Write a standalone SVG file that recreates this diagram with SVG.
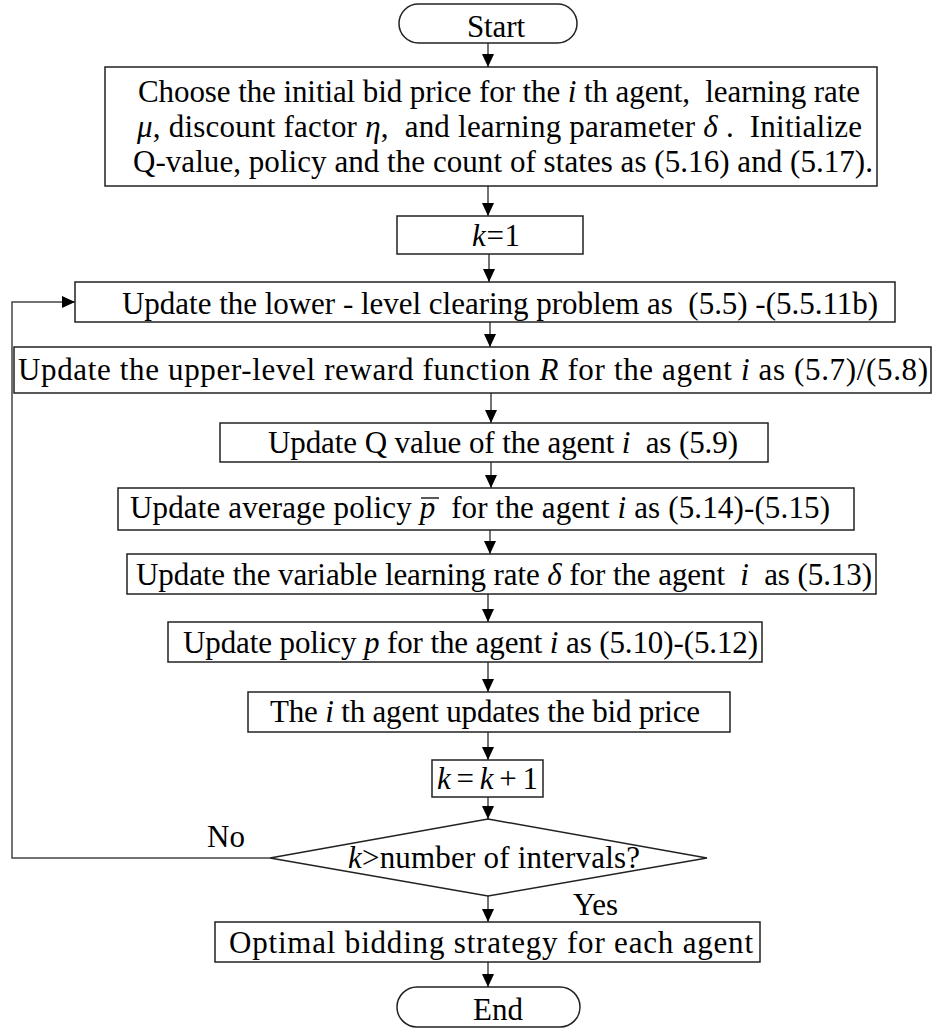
<svg xmlns="http://www.w3.org/2000/svg" width="941" height="1030" viewBox="0 0 941 1030">
<defs>
<marker id="arr" markerUnits="userSpaceOnUse" markerWidth="13" markerHeight="13" refX="13" refY="6" orient="auto">
<path d="M0,0 L13,6 L0,12 z" fill="#000"/>
</marker>
<style>
.box{fill:#fff;stroke:#222;stroke-width:1.5}
.t{font-family:"Liberation Serif","Times New Roman",serif;font-size:31px;fill:#000;white-space:pre}
.i{font-style:italic}
.ln{fill:none;stroke:#444;stroke-width:1.5}
</style>
</defs>
<rect width="941" height="1030" fill="#fff"/>
<g id="connectors">
<line class="ln" x1="488" y1="43" x2="488" y2="67" marker-end="url(#arr)"/>
<line class="ln" x1="488" y1="186" x2="488" y2="216" marker-end="url(#arr)"/>
<line class="ln" x1="489" y1="254" x2="489" y2="282" marker-end="url(#arr)"/>
<line class="ln" x1="490" y1="322" x2="490" y2="347" marker-end="url(#arr)"/>
<line class="ln" x1="491" y1="393" x2="491" y2="423" marker-end="url(#arr)"/>
<line class="ln" x1="491" y1="462" x2="491" y2="488" marker-end="url(#arr)"/>
<line class="ln" x1="490" y1="530" x2="490" y2="554" marker-end="url(#arr)"/>
<line class="ln" x1="488" y1="594" x2="488" y2="622" marker-end="url(#arr)"/>
<line class="ln" x1="488" y1="662" x2="488" y2="692" marker-end="url(#arr)"/>
<line class="ln" x1="488" y1="732" x2="488" y2="760" marker-end="url(#arr)"/>
<line class="ln" x1="488" y1="797" x2="488" y2="819" marker-end="url(#arr)"/>
<line class="ln" x1="488" y1="896" x2="488" y2="922" marker-end="url(#arr)"/>
<line class="ln" x1="488" y1="962" x2="488" y2="987" marker-end="url(#arr)"/>
<polyline class="ln" points="270,858 12,858 12,302 75,302" marker-end="url(#arr)"/>
<text class="t" x="207" y="847" textLength="38">No</text>
<text class="t" x="573" y="915" textLength="45">Yes</text>
</g>
<g id="start">
<rect class="box" x="399" y="4" width="178" height="39" rx="19.5"/>
<text class="t" x="467" y="37" textLength="58">Start</text>
</g>
<g id="init">
<rect class="box" x="105" y="67" width="772" height="119"/>
<text class="t" x="138" y="102" textLength="722">Choose the initial bid price for the <tspan class="i">i</tspan> th agent,  learning rate</text>
<text class="t" x="137" y="137" textLength="725"><tspan class="i">μ</tspan>, discount factor <tspan class="i">η</tspan>,  and learning parameter <tspan class="i">δ</tspan> .  Initialize</text>
<text class="t" x="133" y="172" textLength="740">Q-value, policy and the count of states as (5.16) and (5.17).</text>
</g>
<g id="k1">
<rect class="box" x="397" y="216" width="186" height="38"/>
<text class="t" x="472" y="246" textLength="48"><tspan class="i">k</tspan>=1</text>
</g>
<g id="lower">
<rect class="box" x="75" y="282" width="820" height="40"/>
<text class="t" x="122" y="314" textLength="756">Update the lower - level clearing problem as  (5.5) -(5.5.11b)</text>
</g>
<g id="upper">
<rect class="box" x="14" y="347" width="917" height="46"/>
<text class="t" x="18" y="380" textLength="910">Update the upper-level reward function <tspan class="i">R</tspan> for the agent <tspan class="i">i</tspan> as (5.7)/(5.8)</text>
</g>
<g id="qvalue">
<rect class="box" x="220" y="423" width="548" height="39"/>
<text class="t" x="268" y="453" textLength="470">Update Q value of the agent <tspan class="i">i</tspan>  as (5.9)</text>
</g>
<g id="avgpolicy">
<rect class="box" x="118" y="488" width="736" height="42"/>
<text class="t" x="130" y="518" textLength="700">Update average policy <tspan class="i">p</tspan>  for the agent <tspan class="i">i</tspan> as (5.14)-(5.15)</text>
<line x1="421" y1="498" x2="439" y2="498" stroke="#000" stroke-width="1.3"/>
</g>
<g id="varrate">
<rect class="box" x="127" y="554" width="749" height="40"/>
<text class="t" x="136" y="585" textLength="736">Update the variable learning rate <tspan class="i">δ</tspan> for the agent  <tspan class="i">i</tspan>  as (5.13)</text>
</g>
<g id="policy">
<rect class="box" x="168" y="622" width="594" height="40"/>
<text class="t" x="183" y="653" textLength="575">Update policy <tspan class="i">p</tspan> for the agent <tspan class="i">i</tspan> as (5.10)-(5.12)</text>
</g>
<g id="bid">
<rect class="box" x="248" y="692" width="482" height="40"/>
<text class="t" x="270" y="722" textLength="430">The <tspan class="i">i</tspan> th agent updates the bid price</text>
</g>
<g id="kinc">
<rect class="box" x="432" y="760" width="111" height="37"/>
<text class="t" x="437" y="789" textLength="101"><tspan class="i">k</tspan>=<tspan class="i">k</tspan>+1</text>
</g>
<g id="decision">
<polygon class="box" points="488,819 707,858 488,896 270,858"/>
<text class="t" x="348" y="868" textLength="292"><tspan class="i">k</tspan>&gt;number of intervals?</text>
</g>
<g id="optimal">
<rect class="box" x="215" y="922" width="545" height="40"/>
<text class="t" x="229" y="953" textLength="524">Optimal bidding strategy for each agent</text>
</g>
<g id="end">
<rect class="box" x="397" y="987" width="183" height="40" rx="20"/>
<text class="t" x="473" y="1020" textLength="50">End</text>
</g>
</svg>
